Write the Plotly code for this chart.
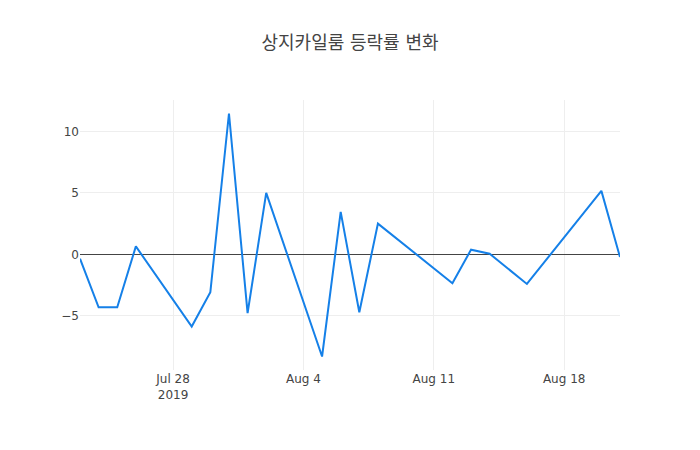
import pandas as pd
import plotly.graph_objects as go

# daily change rate (%) of 상지카일룸, trading days only
dates = ['2019-07-23', '2019-07-24', '2019-07-25', '2019-07-26',
         '2019-07-29', '2019-07-30', '2019-07-31', '2019-08-01', '2019-08-02',
         '2019-08-05', '2019-08-06', '2019-08-07', '2019-08-08',
         '2019-08-12', '2019-08-13', '2019-08-14', '2019-08-16',
         '2019-08-20', '2019-08-21']
rates = [-0.35, -4.3, -4.3, 0.65,
         -5.87, -3.07, 11.45, -4.78, 5.0,
         -8.3, 3.45, -4.7, 2.5,
         -2.34, 0.38, 0.05, -2.4,
         5.16, -0.22]

df = pd.DataFrame({'date': pd.to_datetime(dates), 'rate': rates})

fig = go.Figure()
fig.add_trace(go.Scatter(
    x=df['date'], y=df['rate'],
    mode='lines',
    line=dict(color='#1580e8', width=2)))

# page has an 8px body margin, so shrink the figure to keep the plot area in place
fig.update_layout(
    template='plotly_white',
    width=684, height=434,
    title=dict(text='상지카일룸 등락률 변화', x=0.5, xanchor='center',
               y=1 - 35 / 434, yanchor='middle',
               font=dict(size=18, color='#444')),
    font=dict(family='DejaVu Sans, Noto Sans CJK KR', color='#444', size=12),
    showlegend=False,
    margin=dict(l=72, r=72, t=92, b=72))
fig.update_xaxes(showgrid=True, gridcolor='#eee', zeroline=False, tickcolor='#444')
fig.update_yaxes(showgrid=True, gridcolor='#eee', zeroline=True,
                 zerolinecolor='#444', zerolinewidth=1)

fig.write_html('out.html')
